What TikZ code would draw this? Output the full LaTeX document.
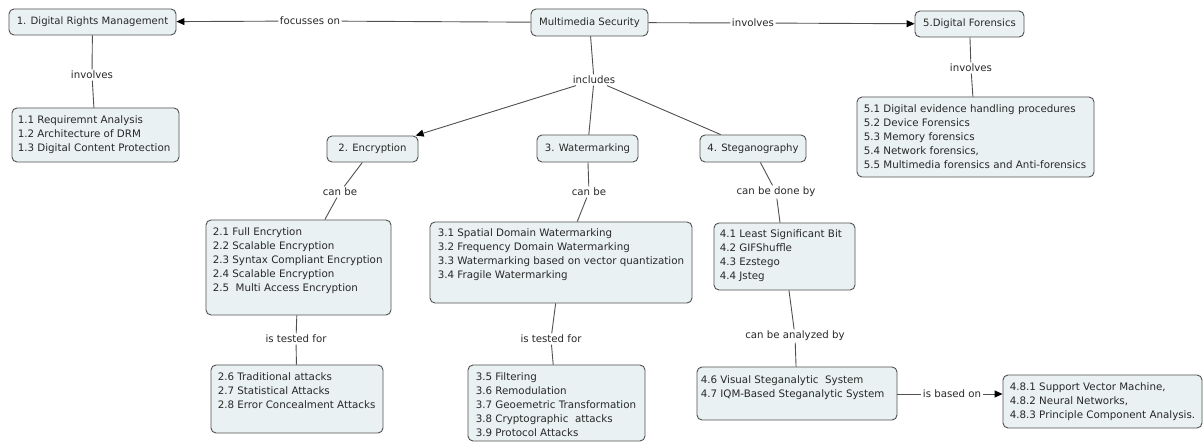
\documentclass[tikz,border=0pt]{standalone}
\usepackage{fontspec}
\setmainfont{DejaVu Sans}
\usetikzlibrary{arrows.meta,fit,calc}
\definecolor{boxfill}{RGB}{233,241,242}
\definecolor{edgec}{RGB}{80,80,80}
\definecolor{ink}{RGB}{40,40,40}
\begin{document}
\begin{tikzpicture}[x=1pt,y=-1pt,
  cbox/.style={draw=edgec, fill=boxfill, rounded corners=5pt, line width=0.9pt, inner sep=0pt},
  btxt/.style={text=ink, font=\fontsize{10.3}{14}\selectfont, align=left, inner sep=0pt, anchor=north west},
  ttl/.style={text=ink, font=\fontsize{10.1}{14}\selectfont, inner sep=0pt},
  lbl/.style={text=ink, font=\fontsize{10.2}{14}\selectfont, fill=white, inner sep=1.5pt},
  conn/.style={draw=edgec, line width=0.9pt},
  arr/.style={conn, -{Triangle[length=8pt,width=7pt,color=black]}}
]
\useasboundingbox (0,0) rectangle (1203,443);
\fill[white] (0,0) rectangle (1203,443);

% boxes
\node[cbox, fit={(9,9)(176,35)}] (drm) {};
\node[ttl] at (drm) {1. Digital Rights Management};
\node[cbox, fit={(12,108)(179,162)}] (b11) {};
\node[btxt] at ($(b11.north west)+(6,8)$) {1.1 Requiremnt Analysis\\1.2 Architecture of DRM\\1.3 Digital Content Protection};

\node[cbox, fit={(531,9)(648,36)}] (ms) {};
\node[ttl] at (ms) {Multimedia Security};

\node[cbox, fit={(915,11)(1024,37)}] (df) {};
\node[ttl] at (df) {5.Digital Forensics};
\node[cbox, fit={(857,97)(1094,177)}] (b51) {};
\node[btxt] at ($(b51.north west)+(7,8)$) {5.1 Digital evidence handling procedures\\5.2 Device Forensics\\5.3 Memory forensics\\5.4 Network forensics,\\5.5 Multimedia forensics and Anti-forensics};

\node[cbox, fit={(327,136)(418,162)}] (enc) {};
\node[ttl] at (enc) {2. Encryption};
\node[cbox, fit={(537,135)(638,162)}] (wm) {};
\node[ttl] at (wm) {3. Watermarking};
\node[cbox, fit={(700,135)(806,162)}] (steg) {};
\node[ttl] at (steg) {4. Steganography};

\node[cbox, fit={(206,220)(391,315)}] (b21) {};
\node[btxt] at ($(b21.north west)+(7,8)$) {2.1 Full Encrytion\\2.2 Scalable Encryption\\2.3 Syntax Compliant Encryption\\2.4 Scalable Encryption\\2.5\ \ Multi Access Encryption};
\node[cbox, fit={(211,365)(383,433)}] (b26) {};
\node[btxt] at ($(b26.north west)+(7,8)$) {2.6 Traditional attacks\\2.7 Statistical Attacks\\2.8 Error Concealment Attacks};

\node[cbox, fit={(430,222)(692,303)}] (b31) {};
\node[btxt] at ($(b31.north west)+(8,7)$) {3.1 Spatial Domain Watermarking\\3.2 Frequency Domain Watermarking\\3.3 Watermarking based on vector quantization\\3.4 Fragile Watermarking};
\node[cbox, fit={(468,365)(645,441)}] (b35) {};
\node[btxt] at ($(b35.north west)+(8,8)$) {3.5 Filtering\\3.6 Remodulation\\3.7 Geoemetric Transformation\\3.8 Cryptographic\ \ attacks\\3.9 Protocol Attacks};

\node[cbox, fit={(714,223)(855,290)}] (b41) {};
\node[btxt] at ($(b41.north west)+(6,7)$) {4.1 Least Significant Bit\\4.2 GIFShuffle\\4.3 Ezstego\\4.4 Jsteg};
\node[cbox, fit={(697,367)(897,420)}] (b46) {};
\node[btxt] at ($(b46.north west)+(4,9)$) {4.6 Visual Steganalytic\ \ System\\4.7 IQM-Based Steganalytic System};
\node[cbox, fit={(1003,375)(1202,428)}] (b48) {};
\node[btxt] at ($(b48.north west)+(7,8)$) {4.8.1 Support Vector Machine,\\4.8.2 Neural Networks,\\4.8.3 Principle Component Analysis.};

% labels
\node[lbl] (foc) at (310,21) {focusses on};
\node[lbl] (inv1) at (753,23) {involves};
\node[lbl] (inc) at (594,80) {includes};
\node[lbl] (inv2) at (92,75) {involves};
\node[lbl] (inv3) at (971,68) {involves};
\node[lbl] (cb1) at (340,192) {can be};
\node[lbl] (cb2) at (589,192) {can be};
\node[lbl] (cbdb) at (776,192) {can be done by};
\node[lbl] (itf1) at (296,339) {is tested for};
\node[lbl] (itf2) at (551,339) {is tested for};
\node[lbl] (cbab) at (795,336) {can be analyzed by};
\node[lbl] (isb) at (952,394) {is based on};

% connectors
\draw[conn] (ms) -- (foc);
\draw[arr] (foc) -- (drm);
\draw[conn] (ms) -- (inv1);
\draw[arr] (inv1) -- (df);
\draw[conn] (drm) -- (inv2);
\draw[conn] (inv2) -- (b11);
\draw[conn] (df) -- (inv3);
\draw[conn] (inv3) -- (b51);
\draw[conn] (ms) -- (inc);
\draw[arr] (inc) -- (enc);
\draw[conn] (inc) -- (wm);
\draw[conn] (inc) -- (steg);
\draw[conn] (enc) -- (cb1);
\draw[conn] (cb1) -- (b21);
\draw[conn] (b21) -- (itf1);
\draw[conn] (itf1) -- (b26);
\draw[conn] (wm) -- (cb2);
\draw[conn] (cb2) -- (b31);
\draw[conn] (b31) -- (itf2);
\draw[conn] (itf2) -- (b35);
\draw[conn] (steg) -- (cbdb);
\draw[conn] (cbdb) -- (b41);
\draw[conn] (b41) -- (cbab);
\draw[conn] (cbab) -- (b46);
\draw[conn] (b46.east |- isb) -- (isb);
\draw[arr] (isb) -- (b48.west |- isb);
\end{tikzpicture}
\end{document}
